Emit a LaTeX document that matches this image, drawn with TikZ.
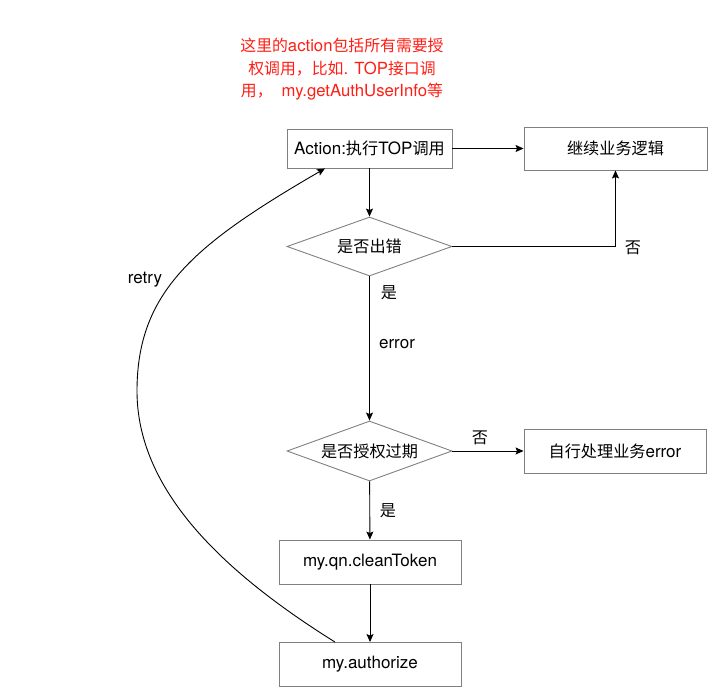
\documentclass[tikz,border=0pt]{standalone}
\usepackage{fontspec}
\setmainfont{TeX Gyre Heros}
\newfontfamily\cjk{Noto Sans CJK SC}[Scale=0.95]
\usetikzlibrary{shapes.geometric,arrows.meta}
\definecolor{bordergray}{RGB}{128,128,128}
\definecolor{notered}{RGB}{255,30,20}
\newcommand{\zh}[1]{{\cjk #1}}
\begin{document}
\begin{tikzpicture}[x=1pt,y=-1pt,
  every node/.style={font=\fontsize{17}{19}\selectfont},
  box/.style={draw=bordergray, line width=0.9pt, rectangle, inner sep=0pt},
  decision/.style={draw=bordergray, line width=0.9pt, diamond, shape aspect=2.8, inner sep=0pt, minimum width=165pt, minimum height=59pt},
  arr/.style={line width=0.9pt, -{Stealth[length=8pt,width=7pt,inset=1.5pt]}},
  lbl/.style={inner sep=0pt}
]
\useasboundingbox (0,0) rectangle (710,691);

% note
\node[text=notered, align=center, font=\fontsize{16.7}{22.5}\selectfont] (note) at (342,69.5)
  {\zh{这里的}action\zh{包括所有需要授}\\
   \zh{权调用，比如}. TOP\zh{接口调}\\
   \zh{用，}\hspace{9pt}my.getAuthUserInfo\zh{等}};

% nodes
\node[box, minimum width=165pt, minimum height=39pt] (act) at (369.5,148.5) {Action:\zh{执行}TOP\zh{调用}};
\node[box, minimum width=183pt, minimum height=43pt] (cont) at (615.5,148.5) {\zh{继续业务逻辑}};
\node[decision] (err) at (369.5,246.5) {\zh{是否出错}};
\node[decision, minimum height=60pt] (exp) at (369.5,451) {\zh{是否授权过期}};
\node[box, minimum width=182pt, minimum height=44pt] (self) at (615,451) {\zh{自行处理业务}error};
\node[box, minimum width=182pt, minimum height=44pt] (clean) at (370,562) {my.qn.cleanToken};
\node[box, minimum width=182pt, minimum height=44pt] (auth) at (370,664.5) {my.authorize};

% connectors
\draw[arr] (act) -- (cont);
\draw[arr] (act) -- (err);
\draw[arr] (err.east) -| (cont.south);
\draw[arr] (err) -- (exp);
\draw[arr] (exp) -- (self);
\draw[arr] (exp) -- (clean);
\draw[arr] (clean) -- (auth);

\coordinate (rs) at ([xshift=-35pt]auth.north);
\coordinate (rm) at (137,391);
\coordinate (re) at ([xshift=-44.5pt]act.south);
\draw[arr] (rs) .. controls (224.5,573) and (137,491) .. (rm)
                .. controls (137,291) and (195,244) .. (re);

% labels
\node[lbl] at (633,248) {\zh{否}};
\node[lbl] at (389,293) {\zh{是}};
\node[lbl] at (397,344) {error};
\node[lbl] at (480,438) {\zh{否}};
\node[lbl] at (388,511) {\zh{是}};
\node[lbl] at (145,280) {retry};
\end{tikzpicture}
\end{document}
